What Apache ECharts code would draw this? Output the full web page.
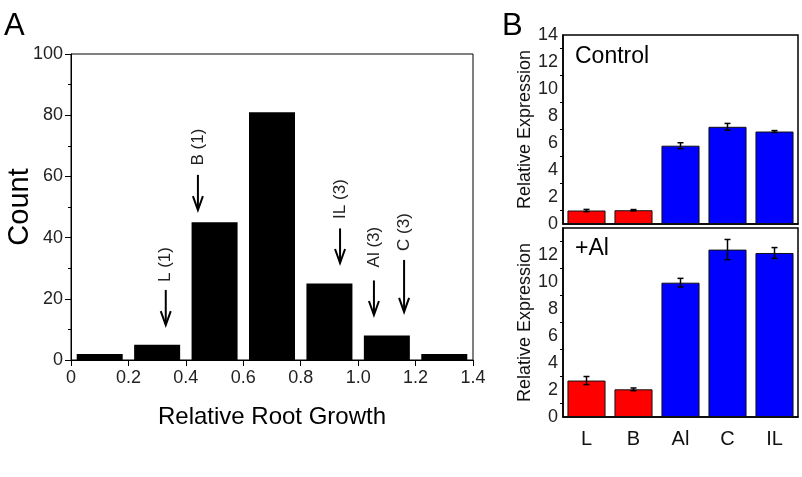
<!DOCTYPE html>
<html><head><meta charset="utf-8">
<script src="https://cdn.jsdelivr.net/npm/echarts@6/dist/echarts.min.js"></script>
<style>html,body{margin:0;padding:0;background:#fff;}#c{width:802px;height:477px;}</style>
</head><body><div id="c"></div>
<script>
// Panel A: histogram
const binCenters = [0.1, 0.3, 0.5, 0.7, 0.9, 1.1, 1.3];
const binCounts = [2, 5, 45, 81, 25, 8, 2];
const xTicksA = [0, 0.2, 0.4, 0.6, 0.8, 1.0, 1.2, 1.4];
// arrows
const arrowLabels = ['L (1)', 'B (1)', 'IL (3)', 'Al (3)', 'C (3)'];
const arrowX = [0.33, 0.442, 0.937, 1.055, 1.16];
const arrowTop = [22.9, 60.5, 43, 26, 32.7];
const arrowTip = [11.4, 49, 31.7, 14.7, 15.7];
const arrowLabelY = [31.2, 69.6, 52.6, 36.9, 41.8];
// Panel B
const genotypes = ['L', 'B', 'Al', 'C', 'IL'];
const controlMean = [1.0, 1.02, 5.8, 7.2, 6.85];
const controlErr = [0.08, 0.05, 0.22, 0.25, 0.07];
const alMean = [2.7, 2.05, 9.95, 12.4, 12.15];
const alErr = [0.3, 0.1, 0.32, 0.75, 0.4];
const barColors = ['#ff0000', '#ff0000', '#0000ff', '#0000ff', '#0000ff'];

const FONT = 'Liberation Sans, Arial, sans-serif';
const chart = echarts.init(document.getElementById('c'), null, {renderer: 'canvas'});

function errSeries(means, errs, gi) {
  return {
    type: 'custom', xAxisIndex: gi, yAxisIndex: gi, z: 5,
    data: means.map((m, i) => [i, m - errs[i], m + errs[i]]),
    renderItem: function (params, api) {
      const lo = api.coord([api.value(0), api.value(1)]);
      const hi = api.coord([api.value(0), api.value(2)]);
      const w = 3;
      const st = {stroke: '#000', lineWidth: 1.5};
      return {type: 'group', children: [
        {type: 'line', shape: {x1: lo[0], y1: lo[1], x2: hi[0], y2: hi[1]}, style: st},
        {type: 'line', shape: {x1: lo[0] - w, y1: lo[1], x2: lo[0] + w, y2: lo[1]}, style: st},
        {type: 'line', shape: {x1: hi[0] - w, y1: hi[1], x2: hi[0] + w, y2: hi[1]}, style: st}
      ]};
    }
  };
}

const option = {
  backgroundColor: '#fff',
  animation: false,
  textStyle: {fontFamily: FONT},
  title: [
    {text: 'A', left: -1, top: 6, textStyle: {fontSize: 31, fontWeight: 'normal', color: '#000', fontFamily: FONT}},
    {text: 'B', left: 497, top: 6, textStyle: {fontSize: 31, fontWeight: 'normal', color: '#000', fontFamily: FONT}},
    {text: 'Control', left: 570, top: 40, textStyle: {fontSize: 23, fontWeight: 'normal', color: '#000', fontFamily: FONT}},
    {text: '+Al', left: 570, top: 232, textStyle: {fontSize: 23, fontWeight: 'normal', color: '#000', fontFamily: FONT}}
  ],
  grid: [
    {left: 71, top: 54, width: 402, height: 306, show: true, borderColor: '#000', borderWidth: 1, outerBoundsMode: 'none', containLabel: false},
    {left: 563, top: 35, width: 235, height: 189, show: true, borderColor: '#000', borderWidth: 1.5, outerBoundsMode: 'none', containLabel: false},
    {left: 563, top: 228, width: 235, height: 189, show: true, borderColor: '#000', borderWidth: 1.5, outerBoundsMode: 'none', containLabel: false}
  ],
  xAxis: [
    {type: 'value', gridIndex: 0, min: 0, max: 1.4, interval: 0.2,
     name: 'Relative Root Growth', nameLocation: 'middle', nameGap: 45,
     nameTextStyle: {fontSize: 24, color: '#000', fontFamily: FONT},
     axisLine: {lineStyle: {color: '#000', width: 1}},
     axisTick: {length: 6, lineStyle: {color: '#000'}},
     axisLabel: {fontSize: 18, color: '#222', margin: 9, fontFamily: FONT,
       formatter: v => (Math.abs(v) < 1e-9 ? '0' : v.toFixed(1))},
     splitLine: {show: false}},
    {type: 'category', gridIndex: 1, data: genotypes,
     axisLine: {lineStyle: {color: '#000', width: 1.5}},
     axisTick: {alignWithLabel: true, length: 5, lineStyle: {color: '#000'}},
     axisLabel: {show: false}},
    {type: 'category', gridIndex: 2, data: genotypes,
     axisLine: {lineStyle: {color: '#000', width: 1.5}},
     axisTick: {alignWithLabel: true, length: 5, lineStyle: {color: '#000'}},
     axisLabel: {fontSize: 20, color: '#111', margin: 12, fontFamily: FONT}}
  ],
  yAxis: [
    {type: 'value', gridIndex: 0, min: 0, max: 100, interval: 20,
     name: 'Count', nameLocation: 'middle', nameGap: 37, nameRotate: 90, nameMoveOverlap: false,
     nameTextStyle: {fontSize: 29, color: '#000', fontFamily: FONT},
     axisLine: {show: true, lineStyle: {color: '#000', width: 1}},
     axisTick: {length: 6, lineStyle: {color: '#000'}},
     minorTick: {show: true, splitNumber: 2, length: 3, lineStyle: {color: '#000'}},
     axisLabel: {fontSize: 18, color: '#222', margin: 8, fontFamily: FONT},
     splitLine: {show: false}},
    {type: 'value', gridIndex: 1, min: 0, max: 14, interval: 2,
     name: 'Relative Expression', nameLocation: 'middle', nameGap: 27, nameRotate: 90,
     nameTextStyle: {fontSize: 18, color: '#111', fontFamily: FONT},
     axisLine: {show: true, lineStyle: {color: '#000', width: 1.5}},
     axisTick: {length: 5, lineStyle: {color: '#000'}},
     minorTick: {show: true, splitNumber: 2, length: 3, lineStyle: {color: '#000'}},
     axisLabel: {fontSize: 18, color: '#222', margin: 5, fontFamily: FONT},
     splitLine: {show: false}},
    {type: 'value', gridIndex: 2, min: 0, max: 14, interval: 2,
     name: 'Relative Expression', nameLocation: 'middle', nameGap: 27, nameRotate: 90,
     nameTextStyle: {fontSize: 18, color: '#111', fontFamily: FONT},
     axisLine: {show: true, lineStyle: {color: '#000', width: 1.5}},
     axisTick: {length: 5, lineStyle: {color: '#000'}},
     minorTick: {show: true, splitNumber: 2, length: 3, lineStyle: {color: '#000'}},
     axisLabel: {fontSize: 18, color: '#222', margin: 5, fontFamily: FONT,
       formatter: v => (v === 14 ? '' : String(v))},
     splitLine: {show: false}}
  ],
  series: [
    {type: 'bar', xAxisIndex: 0, yAxisIndex: 0, barWidth: 46,
     data: binCenters.map((c, i) => [c, binCounts[i]]),
     itemStyle: {color: '#000'}},
    {type: 'custom', xAxisIndex: 0, yAxisIndex: 0, z: 6,
     data: arrowX.map((x, i) => [x, arrowTop[i], arrowTip[i], arrowLabelY[i], i]),
     renderItem: function (params, api) {
       const top = api.coord([api.value(0), api.value(1)]);
       const tip = api.coord([api.value(0), api.value(2)]);
       const lab = api.coord([api.value(0), api.value(3)]);
       const idx = api.value(4);
       const st = {stroke: '#000', lineWidth: 2, fill: null};
       return {type: 'group', children: [
         {type: 'line', shape: {x1: top[0], y1: top[1], x2: tip[0], y2: tip[1] - 1}, style: st},
         {type: 'polyline', shape: {points: [[tip[0] - 5, tip[1] - 14], [tip[0], tip[1]], [tip[0] + 5, tip[1] - 14]]}, style: st},
         {type: 'text', x: lab[0], y: lab[1], rotation: Math.PI / 2,
          style: {text: arrowLabels[idx], fontSize: 17, fontFamily: FONT, fill: '#222', align: 'center', verticalAlign: 'middle'}}
       ]};
     }},
    {type: 'bar', xAxisIndex: 1, yAxisIndex: 1, barCategoryGap: '19%',
     data: controlMean.map((v, i) => ({value: v, itemStyle: {color: barColors[i]}})),
     itemStyle: {borderColor: '#111', borderWidth: 1}},
    errSeries(controlMean, controlErr, 1),
    {type: 'bar', xAxisIndex: 2, yAxisIndex: 2, barCategoryGap: '19%',
     data: alMean.map((v, i) => ({value: v, itemStyle: {color: barColors[i]}})),
     itemStyle: {borderColor: '#111', borderWidth: 1}},
    errSeries(alMean, alErr, 2)
  ]
};
chart.setOption(option);
</script></body></html>
